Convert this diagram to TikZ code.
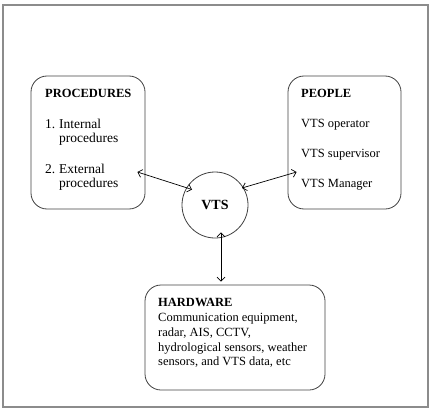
\documentclass[tikz,border=0pt]{standalone}
\usepackage{fontspec}
\setmainfont{Liberation Serif}
\usetikzlibrary{arrows.meta}
\begin{document}
\begin{tikzpicture}[x=1pt,y=-1pt,
  box/.style={draw=black!75,line width=0.8pt,rounded corners=16pt,inner sep=0pt},
  txt/.style={anchor=base west,inner sep=0pt,font=\fontsize{12.5}{14}\selectfont},
  btxt/.style={txt,font=\fontsize{12.5}{14}\selectfont\bfseries},
  ptxt/.style={txt,font=\fontsize{13.5}{15}\selectfont},
  link/.style={line width=0.7pt,{Straight Barb[length=4pt,width=8pt]}-{Straight Barb[length=4pt,width=8pt]}}]
\useasboundingbox (0,0) rectangle (430,409);
\draw[black!45,line width=1.3pt] (3,5) rectangle (428,407);
% boxes
\node[box,minimum width=114pt,minimum height=133pt] (proc) at (88,142.5) {};
\node[box,minimum width=113pt,minimum height=133pt] (people) at (344.5,142.5) {};
\node[box,minimum width=180pt,minimum height=105pt] (hw) at (235,337.5) {};
\node[draw=black!75,line width=0.8pt,circle,minimum size=66pt,inner sep=0pt,
      font=\fontsize{14}{16}\selectfont\bfseries] (vts) at (215,205) {VTS};
% procedures text
\node[btxt] (pt1) at (45,98) {PROCEDURES};
\node[ptxt] (pt2) at (45,128) {1.};
\node[ptxt] (pt3) at (59,128) {Internal};
\node[ptxt] (pt4) at (59,142) {procedures};
\node[ptxt] (pt5) at (45,173) {2.};
\node[ptxt] (pt6) at (59,173) {External};
\node[ptxt] (pt7) at (59,187) {procedures};
% people text
\node[btxt] (pe1) at (301,98) {PEOPLE};
\node[txt] (pe2) at (301,127) {VTS operator};
\node[txt] (pe3) at (301,157) {VTS supervisor};
\node[txt] (pe4) at (301,187) {VTS Manager};
% hardware text
\node[btxt] (h1) at (158,306) {HARDWARE};
\node[txt] (h2) at (158,321) {Communication equipment,};
\node[txt] (h3) at (158,336) {radar, AIS, CCTV,};
\node[txt] (h4) at (158,351) {hydrological sensors, weather};
\node[txt] (h5) at (158,365.5) {sensors, and VTS data, etc};
% connectors
\draw[link] ([shift={(-8,29.5)}]proc.east) -- ([shift={(-23,-15.5)}]vts.center);
\draw[link] ([shift={(27,-17)}]vts.center) -- ([shift={(9,29.5)}]people.west);
\draw[link] ([shift={(6,-6)}]vts.south) -- ([shift={(-14,-3)}]hw.north);
\end{tikzpicture}
\end{document}
